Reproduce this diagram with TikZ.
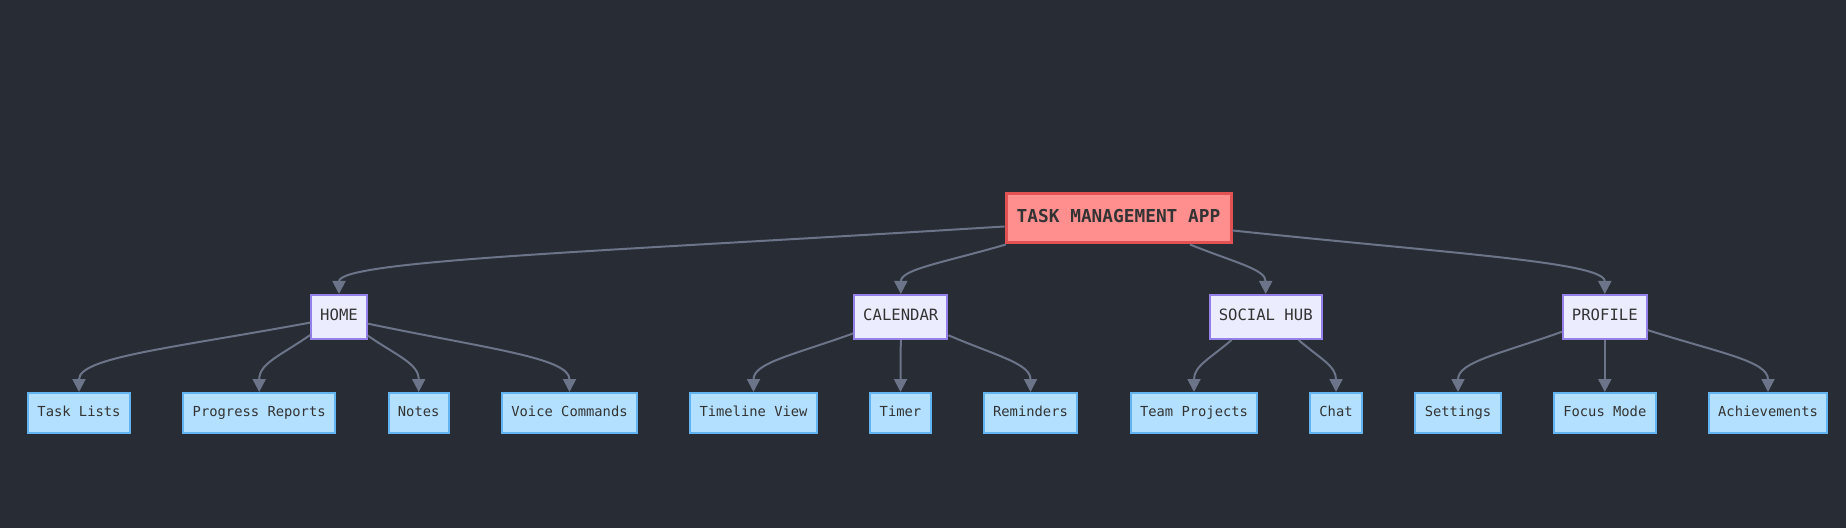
\documentclass[tikz,border=0pt]{standalone}
\usepackage{fontspec}
\usetikzlibrary{arrows.meta,calc}
\newfontfamily\dmono{DejaVu Sans Mono}
\definecolor{bgc}{RGB}{40,44,52}
\definecolor{edgec}{RGB}{107,116,137}
\definecolor{txtc}{RGB}{51,51,51}
\definecolor{rootfill}{RGB}{255,143,143}
\definecolor{rootdraw}{RGB}{226,82,82}
\definecolor{midfill}{RGB}{236,236,255}
\definecolor{middraw}{RGB}{147,128,232}
\definecolor{leaffill}{RGB}{180,224,255}
\definecolor{leafdraw}{RGB}{98,180,240}
\tikzset{
  rootbox/.style={draw=rootdraw,fill=rootfill,line width=3pt,minimum width=225pt,minimum height=49pt,inner sep=0pt,text height=0.73em,text depth=0em,text=txtc,font=\dmono\bfseries\fontsize{17.8}{20}\selectfont},
  midbox/.style={draw=middraw,fill=midfill,line width=2pt,minimum height=44pt,inner xsep=9pt,inner ysep=0pt,text height=0.73em,text depth=0em,text=txtc,font=\dmono\fontsize{15.6}{18}\selectfont},
  leafbox/.style={draw=leafdraw,fill=leaffill,line width=2pt,minimum height=40pt,inner xsep=9.3pt,inner ysep=0pt,text height=0.73em,text depth=0em,text=txtc,font=\dmono\fontsize{13.8}{16}\selectfont},
  edge/.style={draw=edgec,line width=2pt,-{Triangle[length=13pt,width=13pt]}}
}
\newcommand\conn[2]{\draw[edge] let \p1=(#1), \p2=(#2) in (\p1) .. controls ({\x1+0.6*(\x2-\x1)},{\y1+0.37*(\y2-\y1)}) and (\x2,{\y2+0.5*(\y1-\y2)}) .. (\p2);}
\begin{document}
\begin{tikzpicture}[x=1pt,y=1pt]
\fill[bgc] (0,0) rectangle (1846,528);
\useasboundingbox (0,0) rectangle (1846,528);
% root
\node[rootbox] (root) at (1118.5,309.5) {TASK MANAGEMENT APP};
% mid level
\node[midbox] (home) at (339,211) {HOME};
\node[midbox] (calendar) at (900.8,211) {CALENDAR};
\node[midbox] (social) at (1265.7,211) {SOCIAL HUB};
\node[midbox] (profile) at (1604.8,211) {PROFILE};
% leaves
\node[leafbox] (tasks) at (79,115) {Task Lists};
\node[leafbox] (progress) at (259.2,115) {Progress Reports};
\node[leafbox] (notes) at (418.7,115) {Notes};
\node[leafbox] (voice) at (569.5,115) {Voice Commands};
\node[leafbox] (timeline) at (753.5,115) {Timeline View};
\node[leafbox] (timer) at (900.5,115) {Timer};
\node[leafbox] (reminders) at (1030.5,115) {Reminders};
\node[leafbox] (team) at (1194,115) {Team Projects};
\node[leafbox] (chat) at (1336,115) {Chat};
\node[leafbox] (settings) at (1458,115) {Settings};
\node[leafbox] (focus) at (1604.8,115) {Focus Mode};
\node[leafbox] (achieve) at (1768,115) {Achievements};
% edges root
\conn{root.184}{home.north}
\conn{root.193}{calendar.north}
\conn{root.340}{social.north}
\conn{root.354}{profile.north}
% home
\conn{home.191.5}{tasks.north}
\conn{home.212.7}{progress.north}
\conn{home.327.3}{notes.north}
\conn{home.347.3}{voice.north}
% calendar
\conn{calendar.199}{timeline.north}
\conn{calendar.south}{timer.north}
\conn{calendar.339}{reminders.north}
% social
\conn{social.214.8}{team.north}
\conn{social.325.2}{chat.north}
% profile
\conn{profile.199}{settings.north}
\conn{profile.south}{focus.north}
\conn{profile.343}{achieve.north}
\end{tikzpicture}
\end{document}
